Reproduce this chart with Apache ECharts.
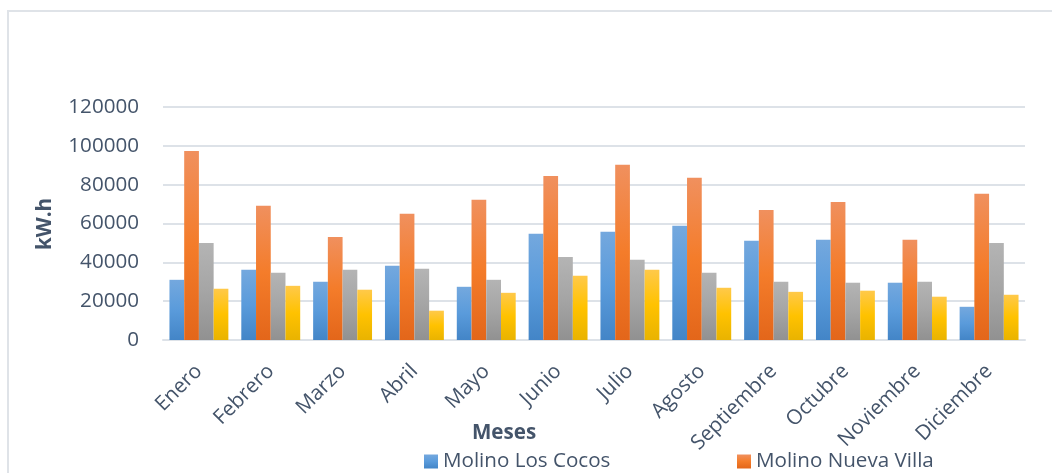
<!DOCTYPE html>
<html>
<head>
<meta charset="utf-8">
<script src="https://cdn.jsdelivr.net/npm/echarts@6/dist/echarts.min.js"></script>
<style>
  html, body { margin: 0; padding: 0; background: #ffffff; }
  #chart { width: 1052px; height: 473px; }
</style>
</head>
<body>
<div id="chart"></div>
<script>
// Monthly energy (kW.h) per mill
const months = ['Enero', 'Febrero', 'Marzo', 'Abril', 'Mayo', 'Junio', 'Julio',
  'Agosto', 'Septiembre', 'Octubre', 'Noviembre', 'Diciembre'];
const losCocos   = [31000, 36200, 30000, 38200, 27400, 54700, 55700, 58800, 51100, 51600, 29500, 17100];
const nuevaVilla = [97400, 69100, 53100, 65000, 72200, 84500, 90200, 83500, 67000, 71100, 51600, 75300];
const molino3    = [50000, 34600, 36200, 36700, 31000, 42800, 41300, 34600, 30000, 29500, 30000, 50000];
const molino4    = [26400, 27900, 25900, 15100, 24300, 33100, 36200, 26900, 24800, 25400, 22300, 23300];
const yTicks = { min: 0, max: 120000, step: 20000 };

const textColor = '#44546a';
const fontFamily = '"Open Sans", "Noto Sans", sans-serif';
const fontSize = 20.6;

function grad(top, mid, bottom) {
  return new echarts.graphic.LinearGradient(0, 0, 0, 1, [
    { offset: 0, color: top },
    { offset: 0.5, color: mid },
    { offset: 1, color: bottom }
  ]);
}

function barSeries(name, data, color) {
  return {
    name: name,
    type: 'bar',
    data: data,
    barGap: '0%',
    barCategoryGap: '18%',
    itemStyle: { color: color },
    emphasis: { disabled: true }
  };
}

const chart = echarts.init(document.getElementById('chart'), null, { renderer: 'canvas' });

chart.setOption({
  animation: false,
  backgroundColor: '#ffffff',
  textStyle: { fontFamily: fontFamily, color: textColor },
  grid: { left: 163, right: 27, top: 107, bottom: 133, containLabel: false },
  legend: [
    {
      data: ['Molino Los Cocos'],
      left: 419, top: 446,
      itemWidth: 14, itemHeight: 14,
      icon: 'rect',
      textStyle: { fontSize: fontSize, color: textColor, fontFamily: fontFamily }
    },
    {
      data: ['Molino Nueva Villa'],
      left: 732, top: 446,
      itemWidth: 14, itemHeight: 14,
      icon: 'rect',
      textStyle: { fontSize: fontSize, color: textColor, fontFamily: fontFamily }
    }
  ],
  xAxis: {
    type: 'category',
    data: months,
    axisLine: { show: true, lineStyle: { color: '#dde2e8', width: 2 } },
    axisTick: { show: false },
    axisLabel: {
      interval: 0,
      rotate: 45,
      margin: 28,
      fontSize: fontSize,
      color: textColor,
      fontFamily: fontFamily
    }
  },
  yAxis: {
    type: 'value',
    min: yTicks.min,
    max: yTicks.max,
    interval: yTicks.step,
    axisLine: { show: false },
    axisTick: { show: false },
    splitLine: { lineStyle: { color: '#dde2e8', width: 2 } },
    axisLabel: {
      margin: 24,
      fontSize: fontSize,
      color: textColor,
      fontFamily: fontFamily,
      formatter: function (v) { return String(v); }
    }
  },
  graphic: [
    {
      type: 'rect',
      silent: true,
      shape: { x: 8, y: 11, width: 1100, height: 500 },
      style: { fill: 'none', stroke: '#dfe3e8', lineWidth: 2 },
      z: -1
    },
    {
      type: 'text',
      x: 45, y: 224,
      rotation: Math.PI / 2,
      style: {
        text: 'kW.h',
        fontSize: fontSize, fontWeight: 'bold', fontFamily: fontFamily,
        fill: textColor, align: 'center', verticalAlign: 'middle'
      }
    },
    {
      type: 'text',
      x: 504, y: 433,
      style: {
        text: 'Meses',
        fontSize: fontSize, fontWeight: 'bold', fontFamily: fontFamily,
        fill: textColor, align: 'center', verticalAlign: 'middle'
      }
    }
  ],
  series: [
    barSeries('Molino Los Cocos', losCocos, grad('#74a8de', '#5a9bdb', '#4385c7')),
    barSeries('Molino Nueva Villa', nuevaVilla, grad('#f0905e', '#f47c2a', '#e3661a')),
    barSeries('Molino 3', molino3, grad('#b4b4b4', '#a5a5a5', '#919191')),
    barSeries('Molino 4', molino4, grad('#ffc94a', '#ffc200', '#e9b300'))
  ]
});
</script>
</body>
</html>
